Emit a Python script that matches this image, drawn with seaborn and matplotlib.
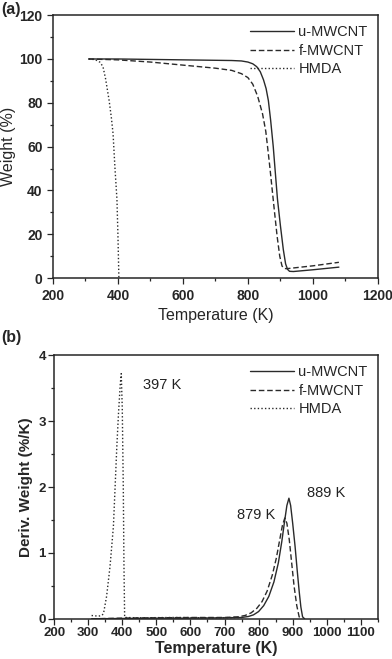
import numpy as np
import pandas as pd
import seaborn as sns
import matplotlib
matplotlib.use("Agg")
import matplotlib.pyplot as plt
from matplotlib.ticker import AutoMinorLocator, MultipleLocator

# ---- TGA (weight %) ----
u_tga_T = [310, 400, 500, 600, 700, 750, 780, 800, 815, 827, 838, 848, 856, 863, 870, 878, 885, 891, 900, 909, 916, 922, 928, 940, 1000, 1080]
u_tga_W = [100, 100, 99.8, 99.6, 99.4, 99.3, 99.1, 98.6, 97.8, 96.5, 94.2, 90.5, 86.5, 81, 72, 60, 47, 36, 24, 13, 6.5, 4.0, 3.1, 3.0, 3.8, 5.0]

f_tga_T = [310, 400, 500, 600, 700, 750, 780, 800, 815, 830, 845, 855, 862, 868, 875, 882, 890, 898, 905, 912, 920, 1000, 1080]
f_tga_W = [100, 99.6, 98.6, 97.2, 95.8, 94.8, 93.3, 91.5, 88.5, 83, 75, 67, 58, 50, 40, 30, 19, 10, 5.5, 4.4, 4.3, 5.6, 7.2]

h_tga_T = [310, 330, 345, 354, 362, 373, 380, 385, 391, 397, 400, 403]
h_tga_W = [100, 99.7, 98.5, 96.5, 91, 81, 73, 66, 50, 36, 20, 0]

# ---- DTG (deriv. weight %/K) ----
u_dtg_T = [310, 400, 500, 600, 700, 750, 770, 785, 800, 815, 830, 845, 858, 868, 876, 883, 889, 894, 900, 907, 913, 919, 924, 929, 935]
u_dtg_D = [0.0, 0.005, 0.01, 0.01, 0.015, 0.02, 0.035, 0.06, 0.11, 0.2, 0.34, 0.56, 0.85, 1.17, 1.47, 1.72, 1.83, 1.72, 1.45, 1.1, 0.75, 0.42, 0.18, 0.03, 0.0]

f_dtg_T = [310, 400, 500, 600, 700, 740, 760, 778, 795, 810, 825, 840, 852, 862, 870, 877, 883, 890, 897, 904, 912, 919, 925]
f_dtg_D = [0.0, 0.01, 0.015, 0.02, 0.02, 0.03, 0.05, 0.09, 0.16, 0.26, 0.42, 0.66, 0.92, 1.2, 1.42, 1.53, 1.45, 1.2, 0.85, 0.5, 0.2, 0.03, 0.0]

h_dtg_T = [310, 330, 340, 345, 354, 364, 374, 379, 384, 389, 394, 397, 400, 403, 405, 407, 450, 550, 650, 750]
h_dtg_D = [0.05, 0.04, 0.05, 0.08, 0.34, 0.79, 1.4, 2.0, 2.61, 3.12, 3.55, 3.72, 3.2, 2.0, 0.8, 0.02, 0.015, 0.02, 0.015, 0.02]

peak_labels = ["397 K", "879 K", "889 K"]
peak_pos = [(462, 3.55), (736, 1.58), (942, 1.91)]

names = ["u-MWCNT", "f-MWCNT", "HMDA"]

sns.set_style("ticks")
plt.rcParams["font.family"] = ["Liberation Sans", "DejaVu Sans"]
plt.rcParams["xtick.direction"] = "out"
plt.rcParams["ytick.direction"] = "out"

def long_df(series, ycol):
    rows = []
    for nm, (xs, ys) in zip(names, series):
        for x, y in zip(xs, ys):
            rows.append({"T": x, ycol: y, "sample": nm})
    return pd.DataFrame(rows)

tga = long_df([(u_tga_T, u_tga_W), (f_tga_T, f_tga_W), (h_tga_T, h_tga_W)], "W")
dtg = long_df([(u_dtg_T, u_dtg_D), (f_dtg_T, f_dtg_D), (h_dtg_T, h_dtg_D)], "D")

pal = {n: "#2a2a2a" for n in names}
dsh = {"u-MWCNT": "", "f-MWCNT": (4, 2), "HMDA": (1, 1.6)}

fig = plt.figure(figsize=(3.92, 6.59), dpi=100)
ax1 = fig.add_axes([0.135, 0.578, 0.829, 0.399])
ax2 = fig.add_axes([0.138, 0.061, 0.826, 0.400])

sns.lineplot(data=tga, x="T", y="W", hue="sample", style="sample", palette=pal,
             dashes=dsh, sort=False, linewidth=1.0, ax=ax1)
sns.lineplot(data=dtg, x="T", y="D", hue="sample", style="sample", palette=pal,
             dashes=dsh, sort=False, linewidth=1.0, ax=ax2)

# panel a
ax1.set_xlim(200, 1200)
ax1.set_ylim(0, 120)
ax1.xaxis.set_major_locator(MultipleLocator(200))
ax1.xaxis.set_minor_locator(AutoMinorLocator(2))
ax1.yaxis.set_major_locator(MultipleLocator(20))
ax1.yaxis.set_minor_locator(AutoMinorLocator(2))
ax1.set_xlabel("Temperature (K)", fontsize=11.5)
ax1.set_ylabel("Weight (%)", fontsize=11.5, labelpad=2)
ax1.tick_params(labelsize=10, length=4, width=0.9)
ax1.tick_params(which="minor", length=2, width=0.9)
for t in ax1.get_xticklabels() + ax1.get_yticklabels():
    t.set_fontweight("bold")
h, l = ax1.get_legend_handles_labels()
ax1.legend(h, l, loc="upper right", frameon=False, fontsize=10.5,
           handlelength=3.0, handletextpad=0.3, labelspacing=0.3,
           borderaxespad=0.3)

# panel b
ax2.set_xlim(200, 1150)
ax2.set_ylim(0, 4)
ax2.xaxis.set_major_locator(MultipleLocator(100))
ax2.xaxis.set_minor_locator(AutoMinorLocator(2))
ax2.yaxis.set_major_locator(MultipleLocator(1))
ax2.yaxis.set_minor_locator(AutoMinorLocator(2))
ax2.set_xlabel("Temperature (K)", fontsize=11.5, fontweight="bold", labelpad=1)
ax2.set_ylabel("Deriv. Weight (%/K)", fontsize=11, fontweight="bold")
ax2.tick_params(labelsize=9.5, length=4, width=0.9, pad=2)
ax2.tick_params(which="minor", length=2, width=0.9)
for t in ax2.get_xticklabels() + ax2.get_yticklabels():
    t.set_fontweight("bold")
h, l = ax2.get_legend_handles_labels()
ax2.legend(h, l, loc="upper right", frameon=False, fontsize=10.5,
           handlelength=3.0, handletextpad=0.3, labelspacing=0.3,
           borderaxespad=0.3)
for txt, (x, y) in zip(peak_labels, peak_pos):
    ax2.text(x, y, txt, fontsize=10.5, ha="left", va="center", color="#222222")

for ax in (ax1, ax2):
    for s in ax.spines.values():
        s.set_linewidth(1.1)
        s.set_visible(True)

fig.text(0.003, 0.997, "(a)", fontsize=11.5, fontweight="bold", va="top")
fig.text(0.003, 0.499, "(b)", fontsize=11.5, fontweight="bold", va="top")

fig.savefig("out.png", dpi=100)
